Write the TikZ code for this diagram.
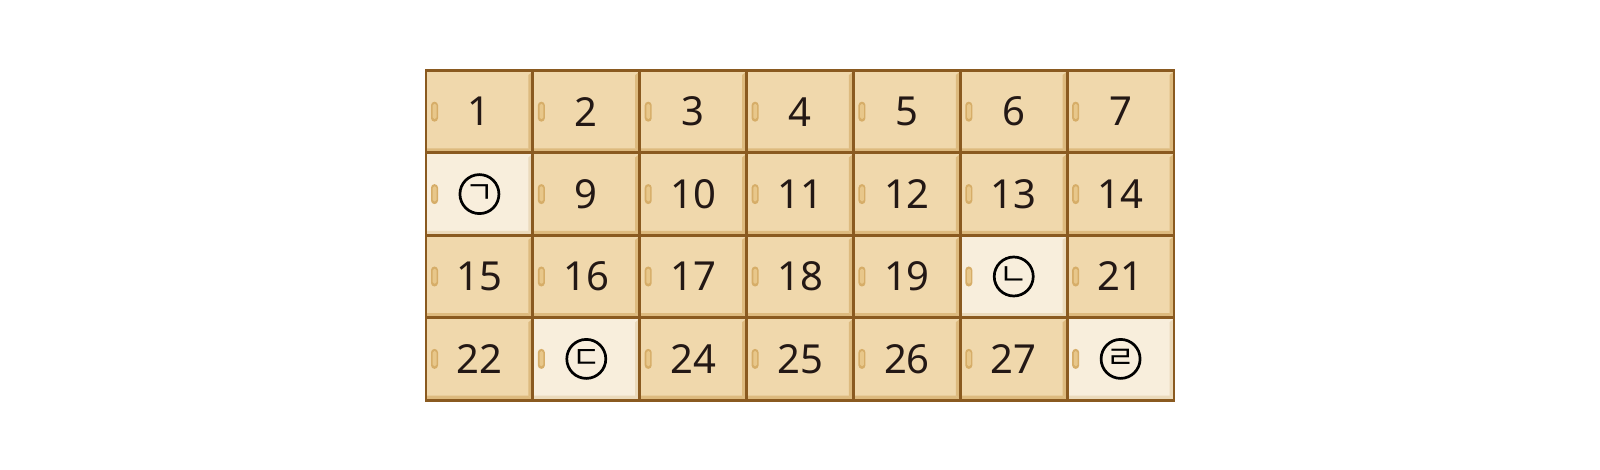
\documentclass[tikz,border=0pt]{standalone}
\usepackage{fontspec}
\setmainfont{Noto Sans}
\newfontfamily\krfont{Noto Sans CJK KR}
\definecolor{cellfill}{HTML}{F0D8AC}
\definecolor{lightfill}{HTML}{F8EEDC}
\definecolor{edgecol}{HTML}{8A5A20}
\definecolor{bevelcol}{HTML}{DDBA7E}
\definecolor{lightbevel}{HTML}{EBDABB}
\definecolor{handlecol}{HTML}{D6AD68}
\definecolor{handlehi}{HTML}{E8C78A}
\definecolor{inkcol}{HTML}{231815}
\tikzset{
  cellbox/.style={minimum width=106.86pt, minimum height=82.4pt, inner sep=0pt, outer sep=0pt,
    text=inkcol, font=\fontsize{40}{48}\selectfont},
  handlebox/.style={minimum width=7pt, minimum height=20pt, inner sep=0pt, rounded corners=3.5pt,
    fill=handlecol},
  circkr/.style={circle, draw=black, line width=2.7pt, minimum size=39pt, inner sep=0pt,
    font=\krfont\fontsize{31}{33}\selectfont, text=black},
  gridline/.style={draw=edgecol, line width=2.8pt}
}
\begin{document}
\begin{tikzpicture}[x=1pt,y=-1pt]
\useasboundingbox (0,0) rectangle (1600,470);
\fill[white] (0,0) rectangle (1600,470);
% cells
\foreach \n in {1,...,28}{
  \pgfmathtruncatemacro\r{int((\n-1)/7)}
  \pgfmathtruncatemacro\c{mod(\n-1,7)}
  \pgfmathsetmacro\lightcell{(\n==8)||(\n==20)||(\n==23)||(\n==28)}
  \ifdim\lightcell pt>0.5pt
    \node[cellbox, fill=lightfill] (c\n) at ({426+(\c+0.5)*106.86},{70.5+(\r+0.5)*82.4}) {};
    \fill[lightbevel] ([xshift=-4.5pt,yshift=-4.5pt]c\n.north east) -- ([yshift=-1pt]c\n.north east)
      -- (c\n.south east) -- ([xshift=-4.5pt,yshift=4.5pt]c\n.south east) -- cycle;
    \fill[lightbevel] ([xshift=1pt,yshift=4.5pt]c\n.south west) -- ([xshift=-4.5pt,yshift=4.5pt]c\n.south east)
      -- (c\n.south east) -- (c\n.south west) -- cycle;
  \else
    \node[cellbox, fill=cellfill] (c\n) at ({426+(\c+0.5)*106.86},{70.5+(\r+0.5)*82.4}) {\n};
    \fill[bevelcol] ([xshift=-4.5pt,yshift=-4.5pt]c\n.north east) -- ([yshift=-1pt]c\n.north east)
      -- (c\n.south east) -- ([xshift=-4.5pt,yshift=4.5pt]c\n.south east) -- cycle;
    \fill[bevelcol] ([xshift=1pt,yshift=4.5pt]c\n.south west) -- ([xshift=-4.5pt,yshift=4.5pt]c\n.south east)
      -- (c\n.south east) -- (c\n.south west) -- cycle;
  \fi
  \node[handlebox] (h\n) at ([xshift=8.5pt]c\n.west) {};
  \fill[handlehi, rounded corners=1.5pt] ([xshift=-1.8pt,yshift=-2.5pt]h\n.north) rectangle ([xshift=2pt,yshift=3pt]h\n.south);
}
% grid lines
\foreach \n in {1,...,28}{
  \draw[gridline] (c\n.south west) rectangle (c\n.north east);
}
% circled letters
\node[circkr] (k1) at (c8) {ㄱ};
\node[circkr] (k2) at (c20) {ㄴ};
\node[circkr] (k3) at (c23) {ㄷ};
\node[circkr] (k4) at (c28) {ㄹ};
\end{tikzpicture}
\end{document}
